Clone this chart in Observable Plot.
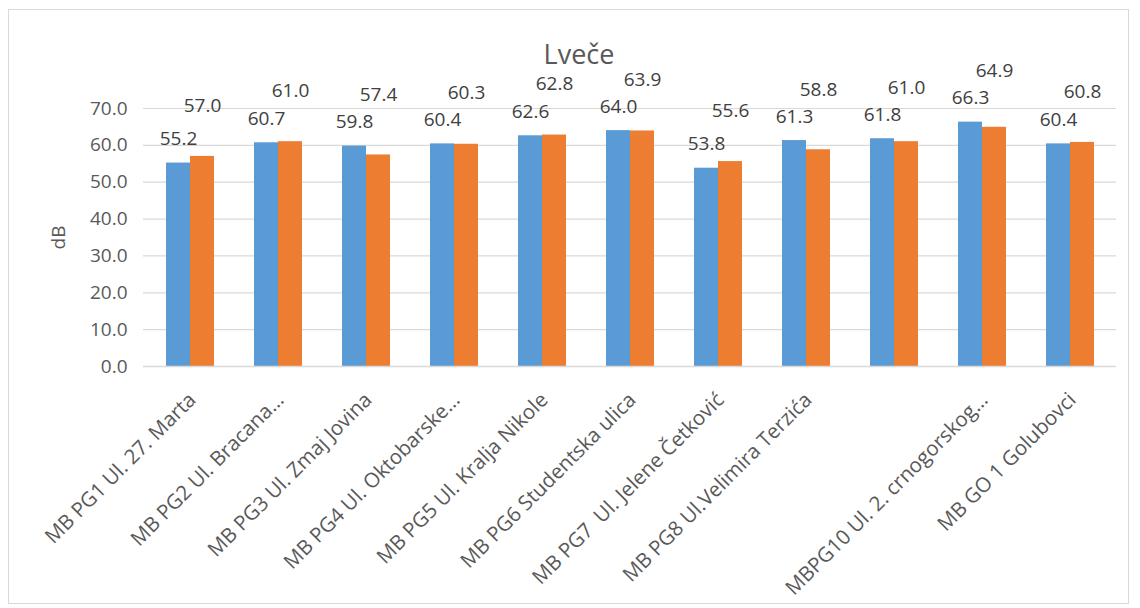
<!DOCTYPE html>
<html>
<head>
<meta charset="utf-8">
<script src="https://cdn.jsdelivr.net/npm/d3@7"></script>
<script src="https://cdn.jsdelivr.net/npm/@observablehq/plot@0.6"></script>
<style>
  body { margin: 0; background: #fff; font-family: "Open Sans", sans-serif; }
  #wrap { position: relative; width: 1140px; height: 608px; overflow: hidden; }
  #frame { position: absolute; left: 8px; top: 9px; width: 1121px; height: 595px; border: 1.5px solid #d9d9d9; box-sizing: border-box; }
  #title { position: absolute; left: 0; width: 1158px; top: 40px; line-height: 1; text-align: center; font-size: 27px; color: #595959; }
  #chart { position: absolute; left: 0; top: 0; }
  #chart svg { overflow: visible; }
</style>
</head>
<body>
<div id="wrap">
  <div id="frame"></div>
  <div id="chart"></div>
  <div id="title">Lveče</div>
</div>
<script>
// Category ids (11 groups) and their displayed tick labels (9th group has no label in the source)
const categories = ["PG1", "PG2", "PG3", "PG4", "PG5", "PG6", "PG7", "PG8", "PG9", "PG10", "GO1"];
const tickLabels = [
  "MB PG1 Ul. 27. Marta",
  "MB PG2 Ul. Bracana...",
  "MB PG3 Ul. Zmaj Jovina",
  "MB PG4 Ul. Oktobarske...",
  "MB PG5 Ul. Kralja Nikole",
  "MB PG6 Studentska ulica",
  "MB PG7  Ul. Jelene Četković",
  "MB PG8 Ul.Velimira Terzića",
  "",
  "MBPG10 Ul. 2. crnogorskog...",
  "MB GO 1 Golubovci"
];
const seriesNames = ["Series1", "Series2"];
const series1 = [55.2, 60.7, 59.8, 60.4, 62.6, 64.0, 53.8, 61.3, 61.8, 66.3, 60.4];
const series2 = [57.0, 61.0, 57.4, 60.3, 62.8, 63.9, 55.6, 58.8, 61.0, 64.9, 60.8];
const yTicks = [0, 10, 20, 30, 40, 50, 60, 70];
const colors = ["#5B9BD5", "#ED7D31"];

const rows1 = categories.map((c, i) => ({cat: c, series: seriesNames[0], value: series1[i]}));
const rows2 = categories.map((c, i) => ({cat: c, series: seriesNames[1], value: series2[i], top: Math.max(series1[i], series2[i])}));
const labelOf = new Map(categories.map((c, i) => [c, tickLabels[i]]));

const chart = Plot.plot({
  width: 1140,
  height: 608,
  marginLeft: 143,
  marginRight: 24,
  marginTop: 108,
  marginBottom: 242,
  style: {fontFamily: "Open Sans, sans-serif", color: "#595959", overflow: "visible"},
  x: {domain: categories, paddingInner: 0.46, paddingOuter: 0.23},
  y: {domain: [0, 70]},
  color: {domain: seriesNames, range: colors},
  marks: [
    Plot.gridY(yTicks, {stroke: "#d9d9d9", strokeOpacity: 1, strokeWidth: 1.2}),
    Plot.axisY(yTicks, {
      tickSize: 0, tickPadding: 16, fontSize: 19,
      tickFormat: d => d.toFixed(1),
      label: "dB", labelAnchor: "center", labelArrow: "none", labelOffset: 92
    }),
    Plot.axisX({
      tickSize: 0, tickPadding: 30, tickRotate: -45, fontSize: 20.5,
      tickFormat: d => labelOf.get(d), label: null, dx: 2
    }),
    Plot.barY(rows1, {x: "cat", y: "value", fill: "series", insetRight: 24}),
    Plot.barY(rows2, {x: "cat", y: "value", fill: "series", insetLeft: 24}),
    Plot.ruleY([0], {stroke: "#d9d9d9", strokeWidth: 1.5}),
    Plot.text(rows1, {x: "cat", y: "value", text: d => d.value.toFixed(1), dx: -12, dy: -24, fontSize: 19, fill: "#404040"}),
    Plot.text(rows2, {x: "cat", y: "top", text: d => d.value.toFixed(1), dx: 12, dy: -51, fontSize: 19, fill: "#404040"})
  ]
});
document.getElementById("chart").appendChild(chart);
</script>
</body>
</html>
